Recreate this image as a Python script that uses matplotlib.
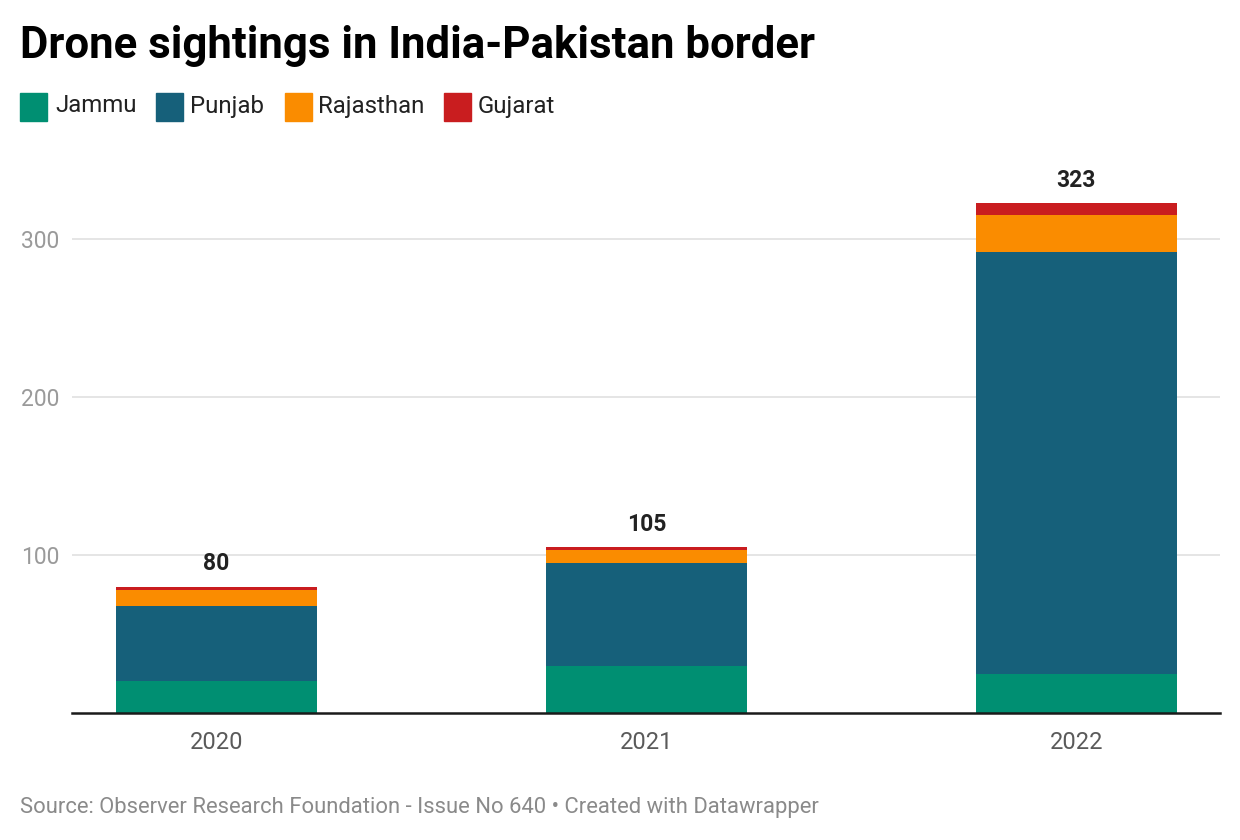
import matplotlib.pyplot as plt
from matplotlib.patches import Rectangle
import numpy as np

plt.rcParams['font.family'] = ['Roboto', 'DejaVu Sans']

years = ['2020', '2021', '2022']
jammu = [20, 30, 25]
punjab = [48, 65, 267]
rajasthan = [10, 8, 23]
gujarat = [2, 2, 8]
totals = [80, 105, 323]

series = [('Jammu', jammu, '#008f72'),
          ('Punjab', punjab, '#16607a'),
          ('Rajasthan', rajasthan, '#fa8c00'),
          ('Gujarat', gujarat, '#c91d1f')]

fig = plt.figure(figsize=(12.4, 8.4), dpi=100)
W, H = 1240, 840
ax = fig.add_axes([72 / W, 1 - 713 / H, (1220 - 72) / W, (713 - 160) / H])

x = np.arange(len(years))
bottom = np.zeros(len(years))
for name, vals, col in series:
    ax.bar(x, vals, width=0.467, bottom=bottom, color=col, zorder=3)
    bottom += np.array(vals)

# totals above each stack
for xi, t in zip(x, totals):
    ax.annotate(str(t), (xi, t), xytext=(0, 8), textcoords='offset points',
                ha='center', va='bottom', fontsize=16.5, fontweight='bold', color='#222222')

ax.set_xlim(-0.336, 2.334)
ax.set_ylim(0, 350)
ax.set_yticks([100, 200, 300])
ax.set_xticks(x)
ax.set_xticklabels(years)
ax.tick_params(axis='y', length=0, pad=9, labelsize=16.5, labelcolor='#9a9a9a')
ax.tick_params(axis='x', length=0, pad=13, labelsize=17, labelcolor='#5a5a5a')
ax.grid(axis='y', color='#e3e3e3', linewidth=1.3, zorder=0)
for s in ['top', 'right', 'left']:
    ax.spines[s].set_visible(False)
ax.spines['bottom'].set_color('#1a1a1a')
ax.spines['bottom'].set_linewidth(1.8)
ax.spines['bottom'].set_zorder(4)

fig.text(20 / W, 1 - 46 / H, 'Drone sightings in India-Pakistan border',
         fontsize=31.5, fontweight='bold', color='#000000', va='center', ha='left')

# legend
leg_x = [(20, 55), (156, 190), (285, 318), (444, 478)]
for (sx, tx), (name, _, col) in zip(leg_x, series):
    fig.patches.append(Rectangle((sx / W, 1 - 121 / H), 27 / W, 28 / H,
                                 transform=fig.transFigure, color=col))
    fig.text(tx / W, 1 - 106 / H, name, fontsize=17.3, color='#222222',
             va='center', ha='left')

fig.text(20 / W, 1 - 807 / H,
         'Source: Observer Research Foundation - Issue No 640 \u2022 Created with Datawrapper',
         fontsize=15.8, color='#8a8a8a', va='center', ha='left')

fig.savefig('out.png', dpi=100, facecolor='white')
